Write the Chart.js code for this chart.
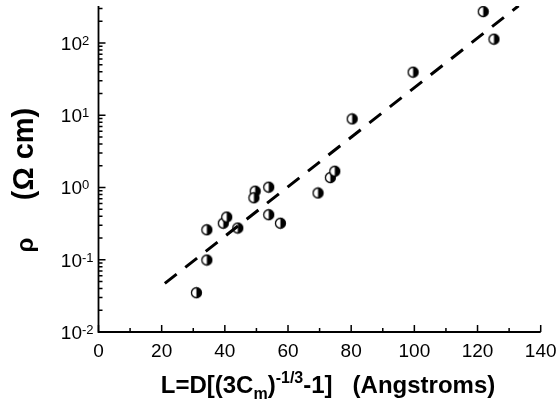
<!DOCTYPE html>
<html>
<head>
<meta charset="utf-8">
<script src="https://cdn.jsdelivr.net/npm/chart.js@4.4.0/dist/chart.umd.min.js"></script>
<style>
    html, body { margin: 0; padding: 0; background: #fff; }
    #wrap { width: 558px; height: 413px; }
</style>
</head>
<body>
<div id="wrap"><canvas id="rho-chart"></canvas></div>
<script>
        // Measured samples: length L (Angstroms) vs resistivity rho (Ohm cm)
        const lengthL = [31, 34.3, 34.3, 39.5, 40.6, 44.1, 49.6, 49.2, 53.9, 53.9, 57.6, 69.5, 73.4, 74.8, 80.3, 99.6, 121.8, 125.2];
        const rhoValues = [0.035, 0.099, 0.26, 0.32, 0.39, 0.275, 0.89, 0.72, 1.01, 0.42, 0.32, 0.84, 1.37, 1.68, 8.9, 39.5, 272, 113];

        // Straight-line fit (in log space) end points
        const fitL = [21, 133];
        const fitRho = [0.047, 327];

        // Axis ticks
        const xMajorTicks = [0, 20, 40, 60, 80, 100, 120, 140];
        const xMinorTicks = [10, 30, 50, 70, 90, 110, 130];
        const xTickLabels = ['0', '20', '40', '60', '80', '100', '120', '140'];
        const yDecades = [0.01, 0.1, 1, 10, 100];
        const yTickExponents = ['-2', '-1', '0', '1', '2'];

        const FONT = '"Liberation Sans", Arial, sans-serif';

        // half filled circle used as the point marker
        function halfDot(r) {
            const size = Math.ceil(r * 2 + 3);
            const cv = document.createElement('canvas');
            cv.width = size;
            cv.height = size;
            const g = cv.getContext('2d');
            const c = size / 2;
            g.fillStyle = '#fff';
            g.beginPath();
            g.arc(c, c, r, 0, Math.PI * 2);
            g.fill();
            g.fillStyle = '#000';
            g.beginPath();
            g.arc(c, c, r, -Math.PI / 2, Math.PI / 2);
            g.closePath();
            g.fill();
            g.lineWidth = 1.3;
            g.strokeStyle = '#000';
            g.beginPath();
            g.arc(c, c, r, 0, Math.PI * 2);
            g.stroke();
            return cv;
        }

        // draws a run of text pieces with sub/superscripts, returns width
        function drawRuns(ctx, runs, x, y, measureOnly) {
            let cx = x;
            runs.forEach(run => {
                ctx.font = run.font;
                if (!measureOnly) ctx.fillText(run.text, cx, y + (run.dy || 0));
                cx += ctx.measureText(run.text).width;
            });
            return cx - x;
        }

        const axesPlugin = {
            id: 'axesPlugin',
            afterDraw(chart) {
                const ctx = chart.ctx;
                const area = chart.chartArea;
                const xs = chart.scales.x;
                const ys = chart.scales.y;

                ctx.save();
                ctx.strokeStyle = '#000';
                ctx.fillStyle = '#000';
                ctx.lineWidth = 1.8;

                // axis lines
                ctx.beginPath();
                ctx.moveTo(area.left, area.top);
                ctx.lineTo(area.left, area.bottom);
                ctx.lineTo(area.right, area.bottom);
                ctx.stroke();

                // x ticks, pointing inward
                ctx.lineWidth = 1.5;
                ctx.beginPath();
                xMajorTicks.forEach(v => {
                    const px = xs.getPixelForValue(v);
                    ctx.moveTo(px, area.bottom);
                    ctx.lineTo(px, area.bottom - 7);
                });
                xMinorTicks.forEach(v => {
                    const px = xs.getPixelForValue(v);
                    ctx.moveTo(px, area.bottom);
                    ctx.lineTo(px, area.bottom - 4);
                });
                // y ticks: decades and 2..9 minors
                yDecades.forEach(d => {
                    const py = ys.getPixelForValue(d);
                    ctx.moveTo(area.left, py);
                    ctx.lineTo(area.left + 7, py);
                    for (let m = 2; m <= 9; m++) {
                        const v = d * m;
                        if (v > ys.max) break;
                        const pm = ys.getPixelForValue(v);
                        ctx.moveTo(area.left, pm);
                        ctx.lineTo(area.left + 4, pm);
                    }
                });
                ctx.stroke();

                // x tick labels
                ctx.font = '19px ' + FONT;
                ctx.textAlign = 'center';
                ctx.textBaseline = 'alphabetic';
                xMajorTicks.forEach((v, i) => {
                    ctx.fillText(xTickLabels[i], xs.getPixelForValue(v), area.bottom + 25);
                });

                // y tick labels as 10^n
                yDecades.forEach((d, i) => {
                    const py = ys.getPixelForValue(d);
                    ctx.font = '19px ' + FONT;
                    ctx.textAlign = 'right';
                    ctx.fillText('10', 82, py + 7);
                    ctx.font = '13px ' + FONT;
                    ctx.textAlign = 'left';
                    ctx.fillText(yTickExponents[i], 82, py + 2);
                });

                // x axis title
                const big = 'bold 24px ' + FONT;
                const small = 'bold 16px ' + FONT;
                const xTitle = [
                    { text: 'L=D[(3C', font: big },
                    { text: 'm', font: small, dy: 6 },
                    { text: ')', font: big },
                    { text: '-1/3', font: small, dy: -10 },
                    { text: '-1]   (Angstroms)', font: big }
                ];
                ctx.textAlign = 'left';
                const w = drawRuns(ctx, xTitle, 0, 0, true);
                drawRuns(ctx, xTitle, 328 - w / 2, 393, false);

                // y axis title, rotated
                ctx.translate(33, 0);
                ctx.rotate(-Math.PI / 2);
                ctx.textAlign = 'center';
                ctx.font = 'bold 29px ' + FONT;
                ctx.fillText('(\u03A9 cm)', -154, 0);
                ctx.font = 'bold 24px ' + FONT;
                ctx.fillText('\u03C1', -245, 0);
                ctx.restore();
            }
        };

        window.addEventListener('load', function() {
            const ctx = document.getElementById('rho-chart').getContext('2d');
            const marker = halfDot(5);

            new Chart(ctx, {
                type: 'scatter',
                data: {
                    datasets: [
                        {
                            label: 'fit',
                            type: 'line',
                            data: fitL.map((x, i) => ({ x: x, y: fitRho[i] })),
                            borderColor: '#000',
                            borderWidth: 3,
                            borderDash: [15, 11],
                            pointRadius: 0,
                            fill: false,
                            tension: 0
                        },
                        {
                            label: 'rho',
                            data: lengthL.map((x, i) => ({ x: x, y: rhoValues[i] })),
                            pointStyle: marker,
                            pointRadius: 5
                        }
                    ]
                },
                options: {
                    responsive: true,
                    maintainAspectRatio: false,
                    animation: false,
                    layout: {
                        padding: { left: 98.5, right: 17.3, top: 4, bottom: 81 }
                    },
                    plugins: {
                        legend: { display: false },
                        tooltip: { enabled: false }
                    },
                    scales: {
                        x: {
                            type: 'linear',
                            display: false,
                            min: 0,
                            max: 140
                        },
                        y: {
                            type: 'logarithmic',
                            display: false,
                            min: 0.01,
                            max: 325
                        }
                    }
                },
                plugins: [axesPlugin]
            });
        });
</script>
</body>
</html>
